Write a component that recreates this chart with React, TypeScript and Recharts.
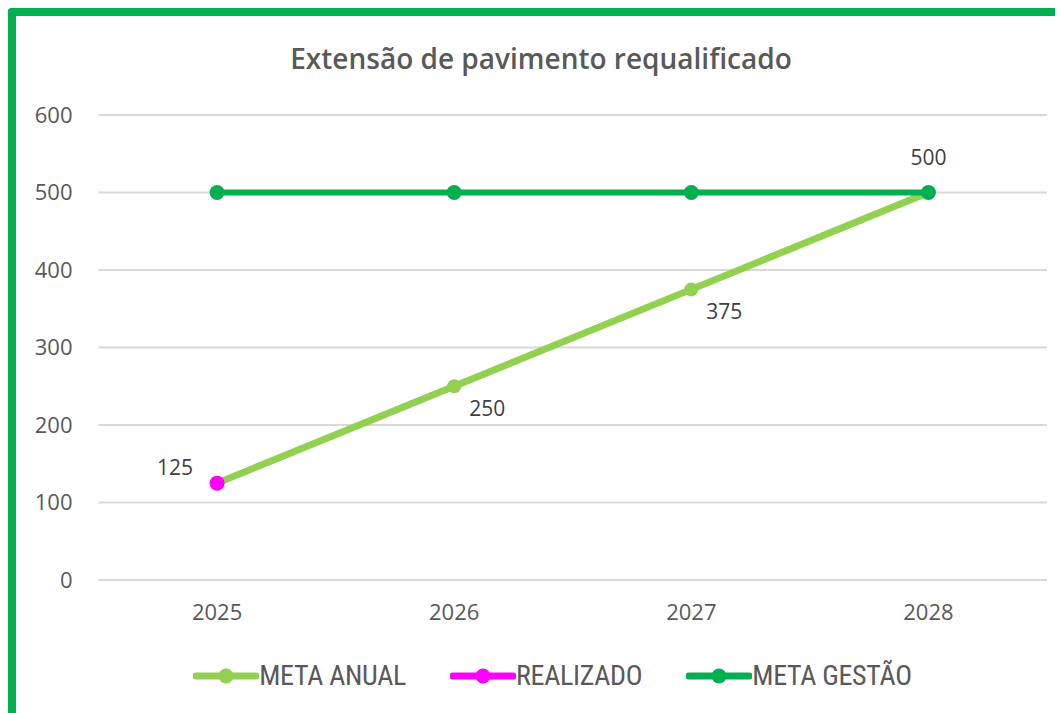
import React from 'react'
import { LineChart, Line, XAxis, YAxis, CartesianGrid, Legend, LabelList } from 'recharts'

const anos = ['2025', '2026', '2027', '2028']
const metaAnual = [125, 250, 375, 500]
const realizado = [125, null, null, null]
const metaGestao = [500, 500, 500, 500]
const yTicks = [0, 100, 200, 300, 400, 500, 600]

// rótulos visíveis (como no gráfico original)
const rotulosMetaAnual = [null, '250', '375', null]
const rotulosRealizado = ['125', null, null, null]
const rotulosMetaGestao = [null, null, null, '500']

const VERDE_CLARO = '#92D050'
const MAGENTA = '#FF00FF'
const VERDE = '#00B050'
const FONT = '"Open Sans", sans-serif'

const data = anos.map((ano, i) => ({
  ano,
  metaAnual: metaAnual[i],
  realizado: realizado[i],
  metaGestao: metaGestao[i],
  lblAnual: rotulosMetaAnual[i],
  lblReal: rotulosRealizado[i],
  lblGestao: rotulosMetaGestao[i],
}))

const makeLabel = (dx: number, dy: number) => (props: any) => {
  const { x, y, value } = props
  if (value == null) return null
  return (
    <text x={x + dx} y={y + dy} textAnchor="middle" dominantBaseline="central" fill="#404040" fontSize={21} fontFamily={FONT}>
      {value}
    </text>
  )
}

const legendItems = [
  { label: 'META ANUAL', color: VERDE_CLARO },
  { label: 'REALIZADO', color: MAGENTA },
  { label: 'META GESTÃO', color: VERDE },
]

const CustomLegend = () => (
  <div style={{ display: 'flex', justifyContent: 'center', gap: 44, paddingLeft: 26, fontFamily: '"Liberation Sans Narrow", "Roboto Condensed", "Open Sans", sans-serif' }}>
    {legendItems.map((it) => (
      <div key={it.label} style={{ display: 'flex', alignItems: 'center' }}>
        <svg width={66} height={20}>
          <line x1={3} y1={10} x2={63} y2={10} stroke={it.color} strokeWidth={7} strokeLinecap="round" />
          <circle cx={33} cy={10} r={7.5} fill={it.color} />
        </svg>
        <span style={{ fontSize: 28, color: '#595959', letterSpacing: -0.3 }}>{it.label}</span>
      </div>
    ))}
  </div>
)

export default function App() {
  return (
    <div style={{ position: 'relative', width: 1055, height: 705, borderLeft: `8px solid ${VERDE}`, borderTop: `8px solid ${VERDE}`, borderTopLeftRadius: 4, boxSizing: 'border-box', background: '#fff', overflow: 'hidden' }}>
      <div style={{ position: 'absolute', top: 23, left: 0, width: 1050, textAlign: 'center', fontFamily: FONT, fontWeight: 600, fontSize: 28, color: '#595959', zIndex: 2 }}>
        Extensão de pavimento requalificado
      </div>
      <LineChart width={1047} height={697} data={data} margin={{ top: 99, right: 16, left: 0, bottom: 0 }}>
        <CartesianGrid vertical={false} stroke="#D9D9D9" strokeWidth={2} />
        <XAxis dataKey="ano" scale="band" axisLine={false} tickLine={false} tickSize={0} tickMargin={24} height={100}
          tick={{ fill: '#595959', fontSize: 22, fontFamily: FONT }} />
        <YAxis domain={[0, 600]} ticks={yTicks} axisLine={false} tickLine={false} tickSize={0} tickMargin={26} width={82.5}
          tick={{ fill: '#595959', fontSize: 22, fontFamily: FONT }} />
        <Legend content={<CustomLegend />} wrapperStyle={{ top: 643, left: 0, width: 1047 }} />
        <Line dataKey="metaAnual" name="META ANUAL" stroke={VERDE_CLARO} strokeWidth={7} isAnimationActive={false}
          dot={{ r: 7, fill: VERDE_CLARO, stroke: VERDE_CLARO, strokeWidth: 0 }} activeDot={false}>
          <LabelList dataKey="lblAnual" content={makeLabel(33, 22)} />
        </Line>
        <Line dataKey="realizado" name="REALIZADO" stroke={MAGENTA} strokeWidth={6} isAnimationActive={false}
          dot={{ r: 7.5, fill: MAGENTA, stroke: MAGENTA, strokeWidth: 0 }} activeDot={false}>
          <LabelList dataKey="lblReal" content={makeLabel(-42, -16)} />
        </Line>
        <Line dataKey="metaGestao" name="META GESTÃO" stroke={VERDE} strokeWidth={6} isAnimationActive={false}
          dot={{ r: 7.5, fill: VERDE, stroke: VERDE, strokeWidth: 0 }} activeDot={false}>
          <LabelList dataKey="lblGestao" content={makeLabel(0, -36)} />
        </Line>
      </LineChart>
    </div>
  )
}
